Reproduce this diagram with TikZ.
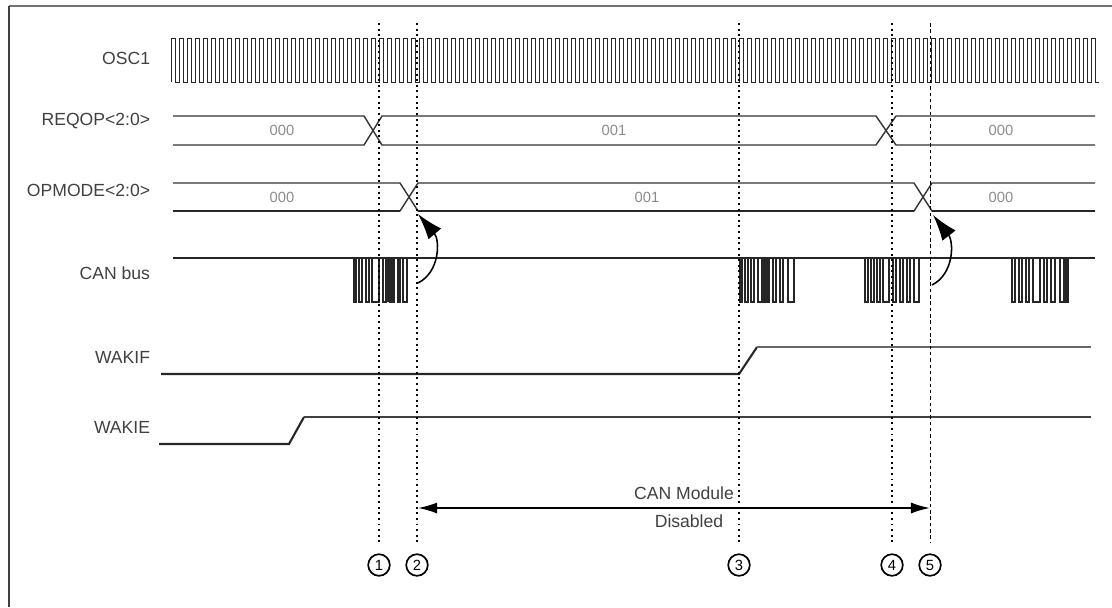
\documentclass[tikz,border=0pt]{standalone}
\usepackage{fontspec}
\setmainfont{Liberation Sans}
\usetikzlibrary{arrows.meta, positioning}

\begin{document}
\begin{tikzpicture}[x=0.25mm, y=-0.25mm,
        sig/.style={anchor=east, font=\fontsize{12.5}{14}\selectfont, text=black!75},
        val/.style={font=\fontsize{10.5}{12}\selectfont, text=black!45},
        wave/.style={line width=0.8pt, black!85},
        bus/.style={line width=1pt, black!80},
        marker/.style={line width=1.6pt, dash pattern=on 1.4pt off 2.6pt},
        num/.style={circle, draw, line width=1.2pt, minimum size=5.4mm, inner sep=0pt, font=\fontsize{10.5}{12}\selectfont},
        cause/.style={-{Latex[length=6.5mm, width=4.2mm]}, line width=1.1pt},
        span/.style={{Latex[length=4.8mm, width=2.8mm]}-{Latex[length=4.8mm, width=2.8mm]}, line width=1.3pt}
        ]
        \useasboundingbox (0,0) rectangle (1112,607);

        % frame
        \draw[line width=0.9pt, black!55] (9,6) -- (1112,6);
        \draw[line width=1.4pt, black!75] (9,6) -- (9,607);

        % signal names
        \node[sig] (osc) at (155,58) {OSC1};
        \node[sig] (reqop) at (155,121) {REQOP\textless 2:0\textgreater};
        \node[sig] (opmode) at (155,190) {OPMODE\textless 2:0\textgreater};
        \node[sig] (canbus) at (155,273) {CAN bus};
        \node[sig] (wakif) at (155,357) {WAKIF};
        \node[sig] (wakie) at (155,427) {WAKIE};

        % OSC1
        \draw[wave, line width=0.55pt] (171,82) foreach \i in {0,...,115} { -- ++(0,-44) -- ++(4,0) -- ++(0,44) -- ++(4,0) };

        % REQOP<2:0>
        \draw[bus] (173,116) -- (364,116) -- (382,145) -- (876,145) -- (896,116) -- (1095,116);
        \draw[bus] (173,145) -- (364,145) -- (382,116) -- (876,116) -- (896,145) -- (1095,145);
        \node[val] (rq0) at (282,130) {000};
        \node[val] (rq1) at (614,130) {001};
        \node[val] (rq2) at (1001,130) {000};

        % OPMODE<2:0>
        \draw[bus] (173,183) -- (400,183) -- (418,211) -- (914,211) -- (932,183) -- (1095,183);
        \draw[bus] (173,211) -- (400,211) -- (418,183) -- (914,183) -- (932,211) -- (1095,211);
        \draw[line width=1.8pt, black!85] (173,211) -- (400,211) (418,211) -- (914,211) (932,211) -- (1095,211);
        \node[val] (op0) at (282,197) {000};
        \node[val] (op1) at (647,197) {001};
        \node[val] (op2) at (1001,197) {000};

        % CAN bus
        \draw[wave] (173,258) -- (1095,258);
        \foreach \a/\b in {354/356, 359/362, 366/369, 372/379, 383/386, 390/394, 398/400, 403/407,
                740/742, 745/748, 751/754, 758/769, 773/776, 780/783, 788/794,
                865/868, 871/874, 877/880, 883/889, 893/896, 900/903, 907/910, 914/919,
                1012/1015, 1019/1022, 1026/1029, 1033/1040, 1044/1047, 1051/1055, 1060/1068}
            \draw[wave, line width=1.1pt] (\a,258) -- (\a,302) -- (\b,302) -- (\b,258);
        \fill[black!85] (761,258) rectangle (768,302) (1063,258) rectangle (1068,302) (386,258) rectangle (393,302);

        % WAKIF
        \draw[line width=1.5pt, black!85] (161,374) -- (739,374) -- (757,347);
        \draw[line width=1pt, black!60] (757,347) -- (1091,347);

        % WAKIE
        \draw[line width=1.5pt, black!85] (159,444) -- (289,444) -- (304,417);
        \draw[line width=1pt, black!75] (304,417) -- (1091,417);

        % event markers
        \foreach \n/\x in {1/379, 2/417, 3/739, 4/892} {
            \coordinate (t\n) at (\x,23);
            \node[num] (m\n) at (\x,565) {\n};
            \draw[marker] (t\n) -- (m\n.north) [shorten >=2.8mm];
        }
        \coordinate (t5) at (930,23);
        \node[num] (m5) at (930,565) {5};
        \draw[line width=0.7pt, dash pattern=on 2.5pt off 2pt, shorten >=2.8mm] (t5) -- (m5.north);

        % wake-up causes
        \coordinate (s1) at (418,283);
        \coordinate (x1) at (418,214);
        \draw[cause] (s1) .. controls (440,272) and (440,240) .. (x1);
        \coordinate (s2) at (932,285);
        \coordinate (x2) at (933,215);
        \draw[cause] (s2) .. controls (954,274) and (954,242) .. (x2);

        % disabled span
        \coordinate (dl) at (418,508);
        \coordinate (dr) at (930,508);
        \draw[span] (dl) -- (dr);
        \node[sig, anchor=center] (dtop) at (684,493) {CAN Module};
        \node[sig, anchor=center] (dbot) at (689,521) {Disabled};
\end{tikzpicture}
\end{document}
